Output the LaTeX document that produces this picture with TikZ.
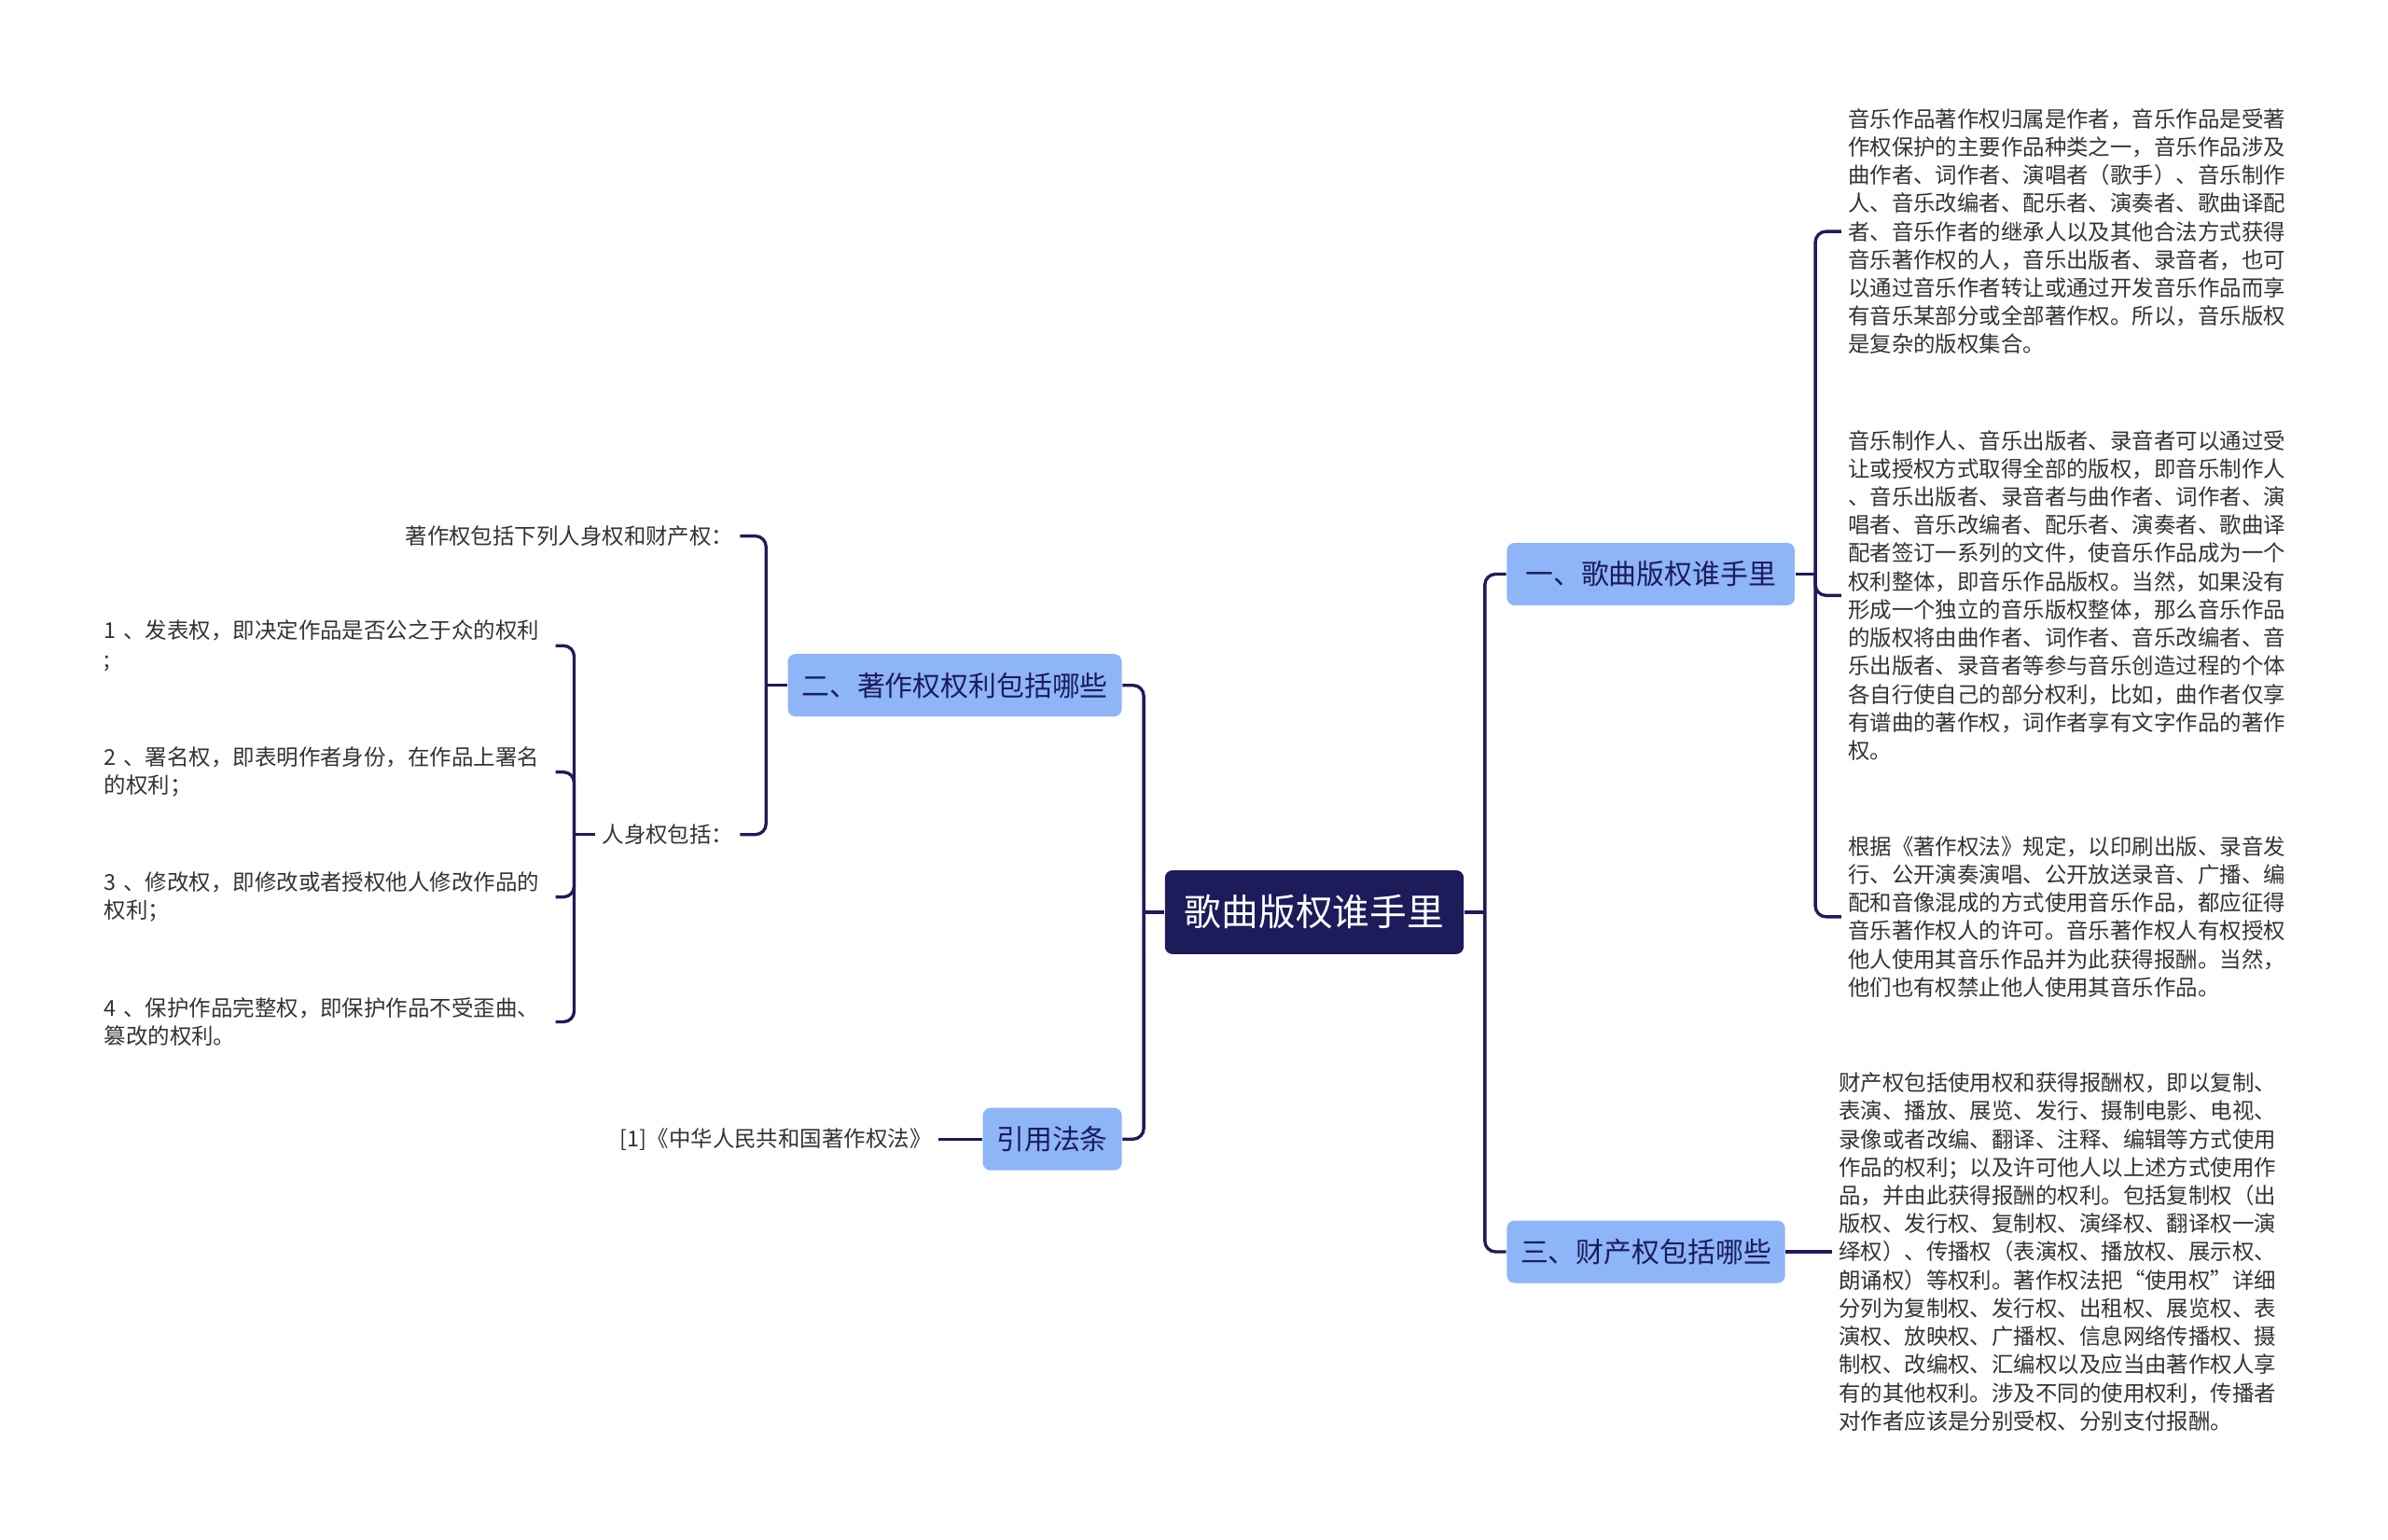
\documentclass[tikz,border=0pt]{standalone}
\usepackage{fontspec}
\setmainfont{Noto Sans CJK SC}
\usepackage{tikz}
\usepackage{xcolor}
\definecolor{navy}{HTML}{1D1B5A}
\definecolor{skyblue}{HTML}{8DB5F8}
\definecolor{txt}{HTML}{333333}
\newlength\pxu
\setlength\pxu{0.16327mm}

\begin{document}
\begin{tikzpicture}[x=\pxu, y=-\pxu]
	\tikzstyle{edge} = [draw=navy, line width=0.95pt, rounded corners=7\pxu]
	\tikzstyle{root} = [fill=navy, text=white, rounded corners=5\pxu, inner xsep=13\pxu, minimum height=55\pxu, font=\fontsize{11.3}{13}\selectfont]
	\tikzstyle{topic} = [fill=skyblue, text=navy, rounded corners=5\pxu, inner xsep=9\pxu, minimum height=41\pxu, font=\fontsize{8.5}{10}\selectfont]
	\tikzstyle{leaf} = [text=txt, inner xsep=4\pxu, inner ysep=0pt, align=left, font=\fontsize{6.67}{8.6}\selectfont]
	\useasboundingbox (0,0) rectangle (1568,1011);
		% main topics
		\node[root] (r) at (863,599) {歌曲版权谁手里};
		\node[topic, anchor=west, minimum width=189\pxu] (a) at (989,377) {一、歌曲版权谁手里};
		\node[topic, anchor=east] (b) at (737,450) {二、著作权权利包括哪些};
		\node[topic, anchor=west] (c) at (989,822) {三、财产权包括哪些};
		\node[topic, anchor=east] (d) at (737,748) {引用法条};
		% right texts
		\node[leaf, text width=292\pxu, anchor=west] (a1) at (1209,152) {音乐作品著作权归属是作者，音乐作品是受著\\作权保护的主要作品种类之一，音乐作品涉及\\曲作者、词作者、演唱者（歌手）、音乐制作\\人、音乐改编者、配乐者、演奏者、歌曲译配\\者、音乐作者的继承人以及其他合法方式获得\\音乐著作权的人，音乐出版者、录音者，也可\\以通过音乐作者转让或通过开发音乐作品而享\\有音乐某部分或全部著作权。所以，音乐版权\\是复杂的版权集合。};
		\node[leaf, text width=292\pxu, anchor=west] (a2) at (1209,391) {音乐制作人、音乐出版者、录音者可以通过受\\让或授权方式取得全部的版权，即音乐制作人\\、音乐出版者、录音者与曲作者、词作者、演\\唱者、音乐改编者、配乐者、演奏者、歌曲译\\配者签订一系列的文件，使音乐作品成为一个\\权利整体，即音乐作品版权。当然，如果没有\\形成一个独立的音乐版权整体，那么音乐作品\\的版权将由曲作者、词作者、音乐改编者、音\\乐出版者、录音者等参与音乐创造过程的个体\\各自行使自己的部分权利，比如，曲作者仅享\\有谱曲的著作权，词作者享有文字作品的著作\\权。};
		\node[leaf, text width=292\pxu, anchor=west] (a3) at (1209,602) {根据《著作权法》规定，以印刷出版、录音发\\行、公开演奏演唱、公开放送录音、广播、编\\配和音像混成的方式使用音乐作品，都应征得\\音乐著作权人的许可。音乐著作权人有权授权\\他人使用其音乐作品并为此获得报酬。当然，\\他们也有权禁止他人使用其音乐作品。};
		\node[leaf, text width=292\pxu, anchor=west] (c1) at (1203,822) {财产权包括使用权和获得报酬权，即以复制、\\表演、播放、展览、发行、摄制电影、电视、\\录像或者改编、翻译、注释、编辑等方式使用\\作品的权利；以及许可他人以上述方式使用作\\品，并由此获得报酬的权利。包括复制权（出\\版权、发行权、复制权、演绎权、翻译权一演\\绎权）、传播权（表演权、播放权、展示权、\\朗诵权）等权利。著作权法把“使用权”详细\\分列为复制权、发行权、出租权、展览权、表\\演权、放映权、广播权、信息网络传播权、摄\\制权、改编权、汇编权以及应当由著作权人享\\有的其他权利。涉及不同的使用权利，传播者\\对作者应该是分别受权、分别支付报酬。};
		% left texts
		\node[leaf, anchor=east] (b1) at (486,352) {著作权包括下列人身权和财产权：};
		\node[leaf, anchor=east] (b2) at (486,548) {人身权包括：};
		\node[leaf, text width=292\pxu, anchor=west] (b21) at (64,424) {1 、发表权，即决定作品是否公之于众的权利\\;};
		\node[leaf, text width=292\pxu, anchor=west] (b22) at (64,507) {2 、署名权，即表明作者身份，在作品上署名\\的权利；};
		\node[leaf, text width=292\pxu, anchor=west] (b23) at (64,589) {3 、修改权，即修改或者授权他人修改作品的\\权利；};
		\node[leaf, text width=292\pxu, anchor=west] (b24) at (64,671) {4 、保护作品完整权，即保护作品不受歪曲、\\篡改的权利。};
		\node[leaf, anchor=east] (d1) at (616,748) {[1]《中华人民共和国著作权法》};
		% junctions
		\coordinate (rj) at (975,599);
		\coordinate (lj) at (751,599);
		\coordinate (aj) at (1192,377);
		\coordinate (bj) at (503,450);
		\coordinate (b2j) at (377,548);
	\draw[edge] (r.east) -- (rj);
	\draw[edge] (a.west) -| (rj) |- (c.west);
	\draw[edge] (r.west) -- (lj);
	\draw[edge] (b.east) -| (lj) |- (d.east);
	\draw[edge] (a.east) -- (aj);
	\draw[edge] (a1.west) -| (aj) |- (a3.west);
	\draw[edge] (a2.west) -| (aj);
	\draw[edge] (c.east) -- (c1.west);
	\draw[edge] (b.west) -- (bj);
	\draw[edge] (b1.east) -| (bj) |- (b2.east);
	\draw[edge] (b2.west) -- (b2j);
	\draw[edge] (b21.east) -| (b2j) |- (b24.east);
	\draw[edge] (b22.east) -| (b2j);
	\draw[edge] (b23.east) -| (b2j);
	\draw[edge] (d.west) -- (d1.east);
	\end{tikzpicture}
\end{document}
